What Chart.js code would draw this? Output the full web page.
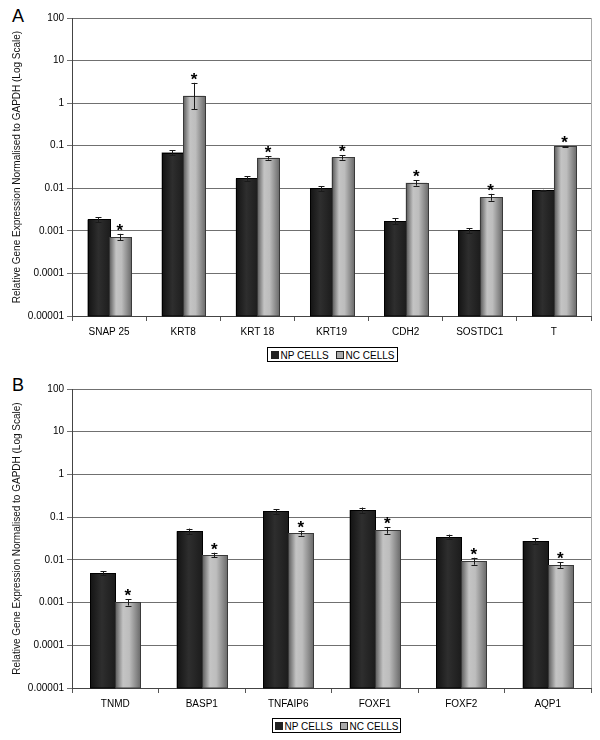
<!DOCTYPE html>
<html>
<head>
<meta charset="utf-8">
<script src="https://cdn.jsdelivr.net/npm/chart.js@4.4.1/dist/chart.umd.min.js"></script>
<style>
    body { margin: 0; background: #fff; }
    #pagina { position: relative; width: 600px; height: 740px; font-family: "Liberation Sans", Arial, sans-serif; overflow: hidden; }
    .letra { position: absolute; left: 12px; font-size: 18px; line-height: 18px; color: #000; }
    .grafico { position: absolute; left: 0; }
    .legenda { position: absolute; border: 1px solid #000; font-size: 10px; height: 15px; line-height: 15px; text-align: center; color: #000; background: #fff; box-sizing: border-box; }
    .quadrado { display: inline-block; width: 6px; height: 6px; border: 1px solid #222; vertical-align: 0px; margin-right: 2px; }
</style>
</head>
<body>
<div id="pagina">
    <div class="letra" style="top: 7px;">A</div>
    <canvas id="grafico_a" class="grafico" style="top: 0px;" width="600" height="345"></canvas>
    <div class="legenda" style="left: 267px; top: 347px; width: 131px;">
        <span class="quadrado" style="background: #222;"></span>NP CELLS
        <span class="quadrado" style="background: #aaa; margin-left: 4px;"></span>NC CELLS
    </div>

    <div class="letra" style="top: 376px;">B</div>
    <canvas id="grafico_b" class="grafico" style="top: 370px;" width="600" height="346"></canvas>
    <div class="legenda" style="left: 272px; top: 718px; width: 129px;">
        <span class="quadrado" style="background: #222;"></span>NP CELLS
        <span class="quadrado" style="background: #aaa; margin-left: 4px;"></span>NC CELLS
    </div>
</div>

<script>
// Painel A
let genesA = ["SNAP 25", "KRT8", "KRT 18", "KRT19", "CDH2", "SOSTDC1", "T"];
let npA = [0.00185, 0.069, 0.017, 0.0099, 0.0017, 0.00102, 0.0090];
let npMinA = [0.0016, 0.060, 0.015, 0.0087, 0.00145, 0.0009, 0.0088];
let npMaxA = [0.0021, 0.078, 0.019, 0.0113, 0.00197, 0.00114, 0.0092];
let ncA = [0.00072, 1.49, 0.052, 0.053, 0.0134, 0.0061, 0.096];
let ncMinA = [0.0006, 0.71, 0.047, 0.047, 0.0115, 0.0051, 0.094];
let ncMaxA = [0.00085, 3.0, 0.057, 0.060, 0.0155, 0.0074, 0.098];
let asteriscoA = [true, true, true, true, true, true, true];

// Painel B
let genesB = ["TNMD", "BASP1", "TNFAIP6", "FOXF1", "FOXF2", "AQP1"];
let npB = [0.0049, 0.047, 0.136, 0.147, 0.034, 0.0276];
let npMinB = [0.0044, 0.041, 0.121, 0.127, 0.030, 0.024];
let npMaxB = [0.0054, 0.054, 0.151, 0.168, 0.039, 0.0318];
let ncB = [0.00101, 0.013, 0.0425, 0.050, 0.0094, 0.0076];
let ncMinB = [0.00085, 0.0114, 0.037, 0.041, 0.0077, 0.0065];
let ncMaxB = [0.00121, 0.0147, 0.048, 0.059, 0.0112, 0.0088];
let asteriscoB = [true, true, true, true, true, true];

// Eixo Y
let valoresY = [0.00001, 0.0001, 0.001, 0.01, 0.1, 1, 10, 100];
let rotulosY = ["0.00001", "0.0001", "0.001", "0.01", "0.1", "1", "10", "100"];

let tituloY = "Relative Gene Expression Normalised to GAPDH (Log Scale)";
let fonte = "'Liberation Sans', Arial, sans-serif";

let gradienteNP = [[0, "#141414"], [0.45, "#2e2e2e"], [1, "#1c1c1c"]];
let gradienteNC = [[0, "#5e5e5e"], [0.3, "#c4c4c4"], [0.55, "#bdbdbd"], [1, "#6a6a6a"]];

let pluginBarras = {
    id: "barrasEstilo",
    afterDatasetsDraw: function (chart) {
        let ctx = chart.ctx;
        let escalaY = chart.scales.y;

        ctx.save();

        for (let d = 0; d < chart.data.datasets.length; d++) {
            let ds = chart.data.datasets[d];
            let meta = chart.getDatasetMeta(d);

            for (let i = 0; i < meta.data.length; i++) {
                let p = meta.data[i].getProps(["x", "y", "base", "width"], true);
                let esq = Math.round(p.x - p.width / 2) + 0.5;
                let larg = Math.round(p.width);
                let topo = Math.round(p.y) + 0.5;

                let grad = ctx.createLinearGradient(esq, 0, esq + larg, 0);
                for (let s = 0; s < ds.gradiente.length; s++) {
                    grad.addColorStop(ds.gradiente[s][0], ds.gradiente[s][1]);
                }
                ctx.fillStyle = grad;
                ctx.fillRect(esq, topo, larg, p.base - topo);
                ctx.strokeStyle = ds.contorno;
                ctx.lineWidth = 1;
                ctx.strokeRect(esq, topo, larg, p.base - topo);

                // barra de erro
                let yMax = escalaY.getPixelForValue(ds.erroMax[i]);
                let yMin = escalaY.getPixelForValue(ds.erroMin[i]);
                let xc = Math.round(p.x) + 0.5;
                ctx.strokeStyle = "#1a1a1a";
                ctx.beginPath();
                ctx.moveTo(xc, yMax);
                ctx.lineTo(xc, yMin);
                ctx.moveTo(xc - 3, Math.round(yMax) + 0.5);
                ctx.lineTo(xc + 3, Math.round(yMax) + 0.5);
                ctx.moveTo(xc - 3, Math.round(yMin) + 0.5);
                ctx.lineTo(xc + 3, Math.round(yMin) + 0.5);
                ctx.stroke();

                if (ds.asterisco && ds.asterisco[i]) {
                    ctx.fillStyle = "#000";
                    ctx.font = "bold 17px " + fonte;
                    ctx.textAlign = "center";
                    ctx.textBaseline = "alphabetic";
                    ctx.fillText("*", p.x, yMax + 2);
                }
            }
        }

        // borda direita
        let area = chart.chartArea;
        ctx.strokeStyle = "#a8a8a8";
        ctx.beginPath();
        ctx.moveTo(Math.round(area.right) + 0.5, area.top);
        ctx.lineTo(Math.round(area.right) + 0.5, area.bottom);
        ctx.stroke();

        ctx.restore();
    }
};

function criarGrafico(idCanvas, genes, np, npMin, npMax, nc, ncMin, ncMax, asterisco, paddingTopo, alturaEixoX) {
    let ctx = document.getElementById(idCanvas);

    return new Chart(ctx, {
        type: "bar",
        data: {
            labels: genes,
            datasets: [
                {
                    label: "NP CELLS",
                    data: np,
                    backgroundColor: "#222",
                    borderWidth: 0,
                    gradiente: gradienteNP,
                    contorno: "#000",
                    erroMin: npMin,
                    erroMax: npMax
                },
                {
                    label: "NC CELLS",
                    data: nc,
                    backgroundColor: "#aaa",
                    borderWidth: 0,
                    gradiente: gradienteNC,
                    contorno: "#3a3a3a",
                    erroMin: ncMin,
                    erroMax: ncMax,
                    asterisco: asterisco
                }
            ]
        },
        options: {
            responsive: false,
            animation: false,
            layout: {
                padding: { top: paddingTopo, right: 9, left: 0, bottom: 0 }
            },
            datasets: {
                bar: {
                    barPercentage: 1,
                    categoryPercentage: 0.58
                }
            },
            plugins: {
                legend: { display: false },
                tooltip: { enabled: false }
            },
            scales: {
                x: {
                    grid: {
                        offset: true,
                        drawOnChartArea: false,
                        drawTicks: true,
                        tickLength: 5,
                        color: "#555"
                    },
                    border: { color: "#444" },
                    ticks: {
                        color: "#000",
                        font: { family: fonte, size: 10 },
                        padding: 5,
                        maxRotation: 0
                    },
                    afterFit: function (escala) {
                        escala.height = alturaEixoX;
                    }
                },
                y: {
                    type: "logarithmic",
                    min: 0.00001,
                    max: 100,
                    afterBuildTicks: function (escala) {
                        escala.ticks = valoresY.map(function (v) {
                            return { value: v };
                        });
                    },
                    ticks: {
                        color: "#000",
                        font: { family: fonte, size: 10 },
                        padding: 3,
                        callback: function (valor, indice) {
                            return rotulosY[indice];
                        }
                    },
                    grid: {
                        color: "#707070",
                        tickLength: 5
                    },
                    border: { color: "#444" },
                    title: {
                        display: true,
                        text: tituloY,
                        color: "#111",
                        font: { family: fonte, size: 10 },
                        padding: { top: 11, bottom: 0 }
                    },
                    afterFit: function (escala) {
                        escala.width = 72;
                    }
                }
            }
        },
        plugins: [pluginBarras]
    });
}

criarGrafico("grafico_a", genesA, npA, npMinA, npMaxA, ncA, ncMinA, ncMaxA, asteriscoA, 18, 29);
criarGrafico("grafico_b", genesB, npB, npMinB, npMaxB, ncB, ncMinB, ncMaxB, asteriscoB, 19, 28);
</script>
</body>
</html>
